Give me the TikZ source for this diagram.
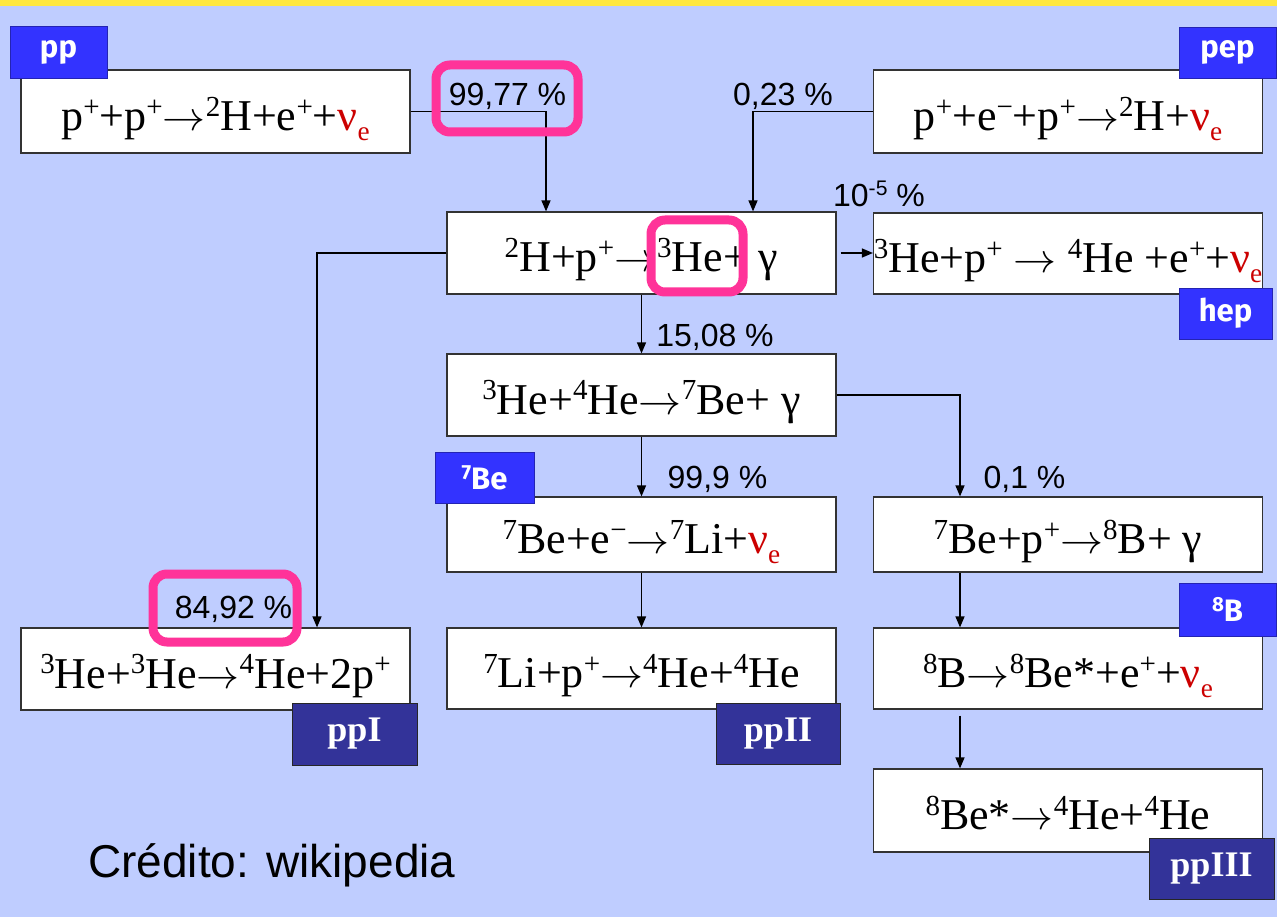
\documentclass[tikz,border=0pt]{standalone}
\usepackage{fontspec}
\setmainfont{Liberation Serif}
\setsansfont{Liberation Sans}
\newfontfamily\tagfont{Fira Sans}
\usepackage{graphicx}
\usetikzlibrary{positioning, calc, arrows.meta}

\definecolor{slideBg}{RGB}{191,205,255}
\definecolor{slideYellow}{RGB}{255,232,64}
\definecolor{tagBlue}{RGB}{51,51,255}
\definecolor{tagNavy}{RGB}{51,51,153}
\definecolor{markPink}{RGB}{255,51,153}
\definecolor{nuRed}{RGB}{204,0,0}

\newcommand{\hi}[1]{\raisebox{0.32em}{\scalebox{0.66}{#1}}}
\newcommand{\nue}{\textcolor{nuRed}{ν\raisebox{-0.22em}{\scalebox{0.62}{e}}}}
\newcommand{\yields}{\scalebox{4.3}[4.1]{\fontsize{10}{12}\selectfont$\rightarrow$}}

\begin{document}
\begin{tikzpicture}[
    x=1pt, y=-1pt,
    rbox/.style={draw=black!80, fill=white, line width=1.2pt,
                 minimum width=389pt, minimum height=82pt, inner sep=0pt,
                 text height=40pt, text depth=2pt,
                 font=\fontsize{44}{48}\selectfont},
    tagbox/.style={fill=tagBlue, draw=tagBlue!70!black, line width=0.8pt,
                   text=white, inner sep=0pt, minimum width=97pt,
                   minimum height=52pt,
                   font=\tagfont\bfseries\fontsize{31}{33}\selectfont},
    chainbox/.style={fill=tagNavy, draw=black!85, line width=1pt,
                     text=white, inner sep=0pt, minimum width=125pt,
                     minimum height=62pt,
                     font=\bfseries\fontsize{36}{38}\selectfont},
    pct/.style={font=\sffamily\fontsize{32}{34}\selectfont, inner sep=0pt},
    flow/.style={-{Triangle[length=11pt,width=9pt]}, line width=1.3pt},
    markbox/.style={draw=markPink, line width=9pt, rounded corners=14pt},
  ]
    % Slide background
    \fill[slideBg] (0,0) rectangle (1277,917);
    \fill[slideYellow] (0,0) rectangle (1277,6);
    \useasboundingbox (0,0) rectangle (1277,917);

    % Reactions
    \node[rbox, minimum height=83pt] (pp) at (215.5,111.5)
      {p\hi{+}+p\hi{+}\yields\hi{2}H+e\hi{+}+\nue};
    \node[rbox, minimum height=83pt] (pep) at (1068,111.5)
      {p\hi{+}+e\hi{−}+p\hi{+}\yields\hi{2}H+\nue};
    \node[rbox] (capture) at (641.5,253) {\hi{2}H+p\hi{+}\yields\hi{3}He+ γ};
    \node[rbox, minimum height=81pt] (hep) at (1068,253.5)
      {\hi{3}He+p\hi{+} \yields{} \hi{4}He +e\hi{+}+\nue};
    \node[rbox] (heBe) at (641.5,395) {\hi{3}He+\hi{4}He\yields\hi{7}Be+ γ};
    \node[rbox, minimum height=75pt] (beEc) at (641.5,534.5)
      {\hi{7}Be+e\hi{−}\yields\hi{7}Li+\nue};
    \node[rbox, minimum height=81pt] (liP) at (641.5,668.5)
      {\hi{7}Li+p\hi{+}\yields\hi{4}He+\hi{4}He};
    \node[rbox, minimum height=75pt] (beP) at (1068,534.5)
      {\hi{7}Be+p\hi{+}\yields\hi{8}B+ γ};
    \node[rbox, minimum height=81pt] (bDecay) at (1068,668.5)
      {\hi{8}B\yields\hi{8}Be*+e\hi{+}+\nue};
    \node[rbox, minimum height=83pt] (beStar) at (1068,810.5)
      {\hi{8}Be*\yields\hi{4}He+\hi{4}He};
    \node[rbox] (heHe) at (215.5,669) {\hi{3}He+\hi{3}He\yields\hi{4}He+2p\hi{+}};

    % Branches
    \draw[flow] (pp.east) -| ([xshift=-95.5pt]capture.north);
    \draw[flow] (pep.west) -| ([xshift=111.5pt]capture.north);
    \draw[flow, shorten <=4pt] (capture.east) -- (capture.east -| hep.west);
    \draw[flow] (capture.west) -| ([xshift=101.5pt]heHe.north);
    \draw[flow] (capture.south) -- (heBe.north);
    \draw[flow] (heBe.east) -| ([xshift=-108pt]beP.north);
    \draw[flow] (heBe.south) -- (beEc.north);
    \draw[flow] (beEc.south) -- (liP.north);
    \draw[flow] ([xshift=-108pt]beP.south) -- ([xshift=-108pt]bDecay.north);
    \draw[flow, shorten <=6pt] ([xshift=-108pt]bDecay.south) -- ([xshift=-108pt]beStar.north);

    % Branching ratios
    \node[pct] (r9977) at (507.5,96) {99,77 \%};
    \node[pct] (r023) at (783,96) {0,23 \%};
    \node[pct] (r105) at (879,194) {10\hi{-5} \%};
    \node[pct] (r1508) at (715,337) {15,08 \%};
    \node[pct] (r999) at (717.5,479) {99,9 \%};
    \node[pct] (r01) at (1024.5,479) {0,1 \%};
    \node[pct] (r8492) at (233.5,609) {84,92 \%};

    % Chain tags
    \node[tagbox] (tagPp) at (58.5,52) {pp};
    \node[tagbox, minimum height=51pt] (tagPep) at (1227.5,52.5) {pep};
    \node[tagbox, minimum width=93pt, minimum height=51pt] (tagHep) at (1225.5,313.5) {hep};
    \node[tagbox, minimum width=99pt, minimum height=51pt] (tagBe) at (484.5,477.5) {\hi{7}Be};
    \node[tagbox, minimum height=53pt] (tagB) at (1227.5,609.5) {\hi{8}B};
    \node[chainbox] (tagPpI) at (354.5,734) {ppI};
    \node[chainbox, minimum width=124pt, minimum height=61pt] (tagPpII) at (778,733.5) {ppII};
    \node[chainbox, minimum height=61pt] (tagPpIII) at (1211.5,868.5) {ppIII};

    % Highlights
    \draw[markbox] (436,65) rectangle (578,132);
    \draw[markbox] (651,220) rectangle (743,292);
    \draw[markbox] (153,574) rectangle (297,642);

    \node[font=\sffamily\fontsize{46}{48}\selectfont, anchor=base west,
          inner sep=0pt] (credit) at (88,877) {Crédito: wikipedia};
\end{tikzpicture}
\end{document}
